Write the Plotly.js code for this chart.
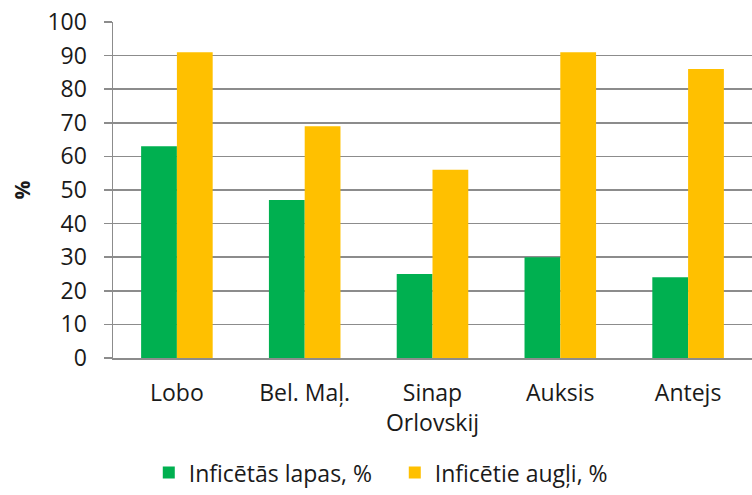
<!DOCTYPE html>
<html>
<head>
<meta charset="utf-8">
<script src="https://cdn.plot.ly/plotly-3.0.1.min.js"></script>
<style>html,body{margin:0;padding:0;background:#fff;}#chart{width:752px;height:495px;}</style>
</head>
<body>
<div id="chart"></div>
<script>
const categories = ["Lobo", "Bel. Maļ.", "Sinap<br>Orlovskij", "Auksis", "Antejs"];
const seriesNames = ["Inficētās lapas, %", "Inficētie augļi, %"];
const leaves = [63, 47, 25, 30, 24];
const fruits = [91, 69, 56, 91, 86];
const yTicks = [0, 10, 20, 30, 40, 50, 60, 70, 80, 90, 100];

const font = {family: "Open Sans, Noto Sans, sans-serif", size: 23, color: "#1a1a1a"};

const data = [
  {type: "bar", name: seriesNames[0], x: categories, y: leaves, marker: {color: "#00B050"}},
  {type: "bar", name: seriesNames[1], x: categories, y: fruits, marker: {color: "#FFC000"}}
];

const layout = {
  width: 752, height: 495,
  margin: {l: 113, r: 0, t: 22, b: 137, autoexpand: false},
  paper_bgcolor: "#fff", plot_bgcolor: "#fff",
  font: font,
  barmode: "group",
  bargap: 0.44,
  bargroupgap: 0,
  showlegend: true,
  legend: {orientation: "h", x: 0.056, xanchor: "left", y: -0.405, yanchor: "bottom",
           font: font, itemwidth: 30, entrywidth: 201, entrywidthmode: "pixels",
           traceorder: "normal", bgcolor: "rgba(0,0,0,0)"},
  xaxis: {
    type: "category",
    showline: true, linecolor: "#8c8c8c", linewidth: 1.5,
    ticks: "", tickfont: font, automargin: false, ticklabelstandoff: 14,
    showgrid: false, zeroline: false
  },
  yaxis: {
    range: [0, 100], tickvals: yTicks, ticktext: yTicks.map(String),
    showline: true, linecolor: "#8c8c8c", linewidth: 1.5,
    ticks: "outside", ticklen: 8, tickcolor: "#8c8c8c", tickwidth: 1.5,
    showgrid: true, gridcolor: "#8c8c8c", gridwidth: 1.5,
    zeroline: false, tickfont: font, automargin: false, ticklabelstandoff: 12,
    title: {text: "<b>%</b>", font: {family: font.family, size: 21, color: "#1a1a1a"}, standoff: 11}
  }
};

Plotly.newPlot("chart", data, layout, {displayModeBar: false, staticPlot: true});
</script>
</body>
</html>
